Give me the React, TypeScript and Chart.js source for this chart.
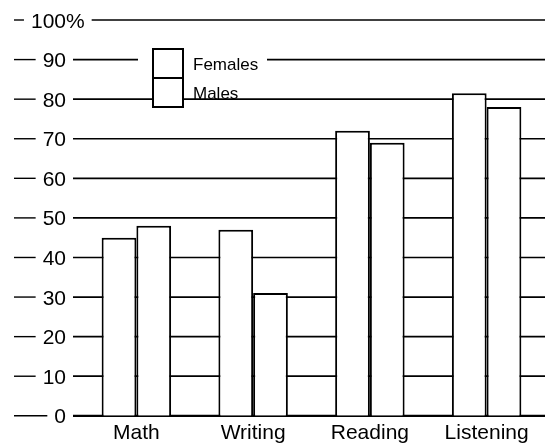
import { useEffect, useRef } from 'react';
import { Chart, registerables } from 'chart.js';

Chart.register(...registerables);

const categories = ['Math', 'Writing', 'Reading', 'Listening'];
const femaleValues = [45, 47, 72, 81.5];
const maleValues = [48, 31, 69, 78];
const seriesLabels = ['Females', 'Males'];
const yTicks = [0, 10, 20, 30, 40, 50, 60, 70, 80, 90, 100];
const topTickSuffix = '%';

const FONT = '"Liberation Sans", Arial, Helvetica, sans-serif';

export default function App() {
  const ref = useRef<HTMLCanvasElement>(null);

  useEffect(() => {
    if (!ref.current) return;

    const axisPlugin = {
      id: 'paperAxis',
      beforeDatasetsDraw(chart: any) {
        const ctx = chart.ctx;
        const ys = chart.scales.y;
        ctx.save();
        ctx.font = `21px ${FONT}`;
        ctx.fillStyle = '#000';
        ctx.strokeStyle = '#000';
        ctx.textBaseline = 'alphabetic';
        const numRight = 66;
        yTicks.forEach((v) => {
          const py = ys.getPixelForValue(v);
          const num = String(v);
          const numW = ctx.measureText(num).width;
          const numLeft = numRight - numW;
          ctx.textAlign = 'right';
          ctx.fillText(num, numRight, py + 7.5);
          let labelRight = numRight;
          if (v === yTicks[yTicks.length - 1]) {
            ctx.textAlign = 'left';
            ctx.fillText(topTickSuffix, numRight, py + 7.5);
            labelRight += ctx.measureText(topTickSuffix).width;
          }
          ctx.lineWidth = 1.4;
          ctx.beginPath();
          ctx.moveTo(14, py);
          ctx.lineTo(numLeft - 7, py);
          ctx.stroke();
          ctx.lineWidth = v === 0 ? 2.2 : 1.7;
          ctx.beginPath();
          ctx.moveTo(labelRight + 7, py);
          ctx.lineTo(chart.width, py);
          ctx.stroke();
        });
        ctx.restore();
      },
    };

    const legendPlugin = {
      id: 'paperLegend',
      afterDatasetsDraw(chart: any) {
        const ctx = chart.ctx;
        ctx.save();
        ctx.fillStyle = '#fff';
        ctx.fillRect(138, 52, 129, 20);
        const bx = 153;
        const by = 49;
        const bw = 30;
        const bh = 29;
        chart.data.datasets.forEach((ds: any, i: number) => {
          ctx.fillStyle = '#fff';
          ctx.fillRect(bx, by + i * bh, bw, bh);
          ctx.strokeStyle = '#000';
          ctx.lineWidth = 2;
          ctx.strokeRect(bx, by + i * bh, bw, bh);
          ctx.fillStyle = '#000';
          ctx.font = `17px ${FONT}`;
          ctx.textAlign = 'left';
          ctx.textBaseline = 'alphabetic';
          ctx.fillText(ds.label, 193, by + i * bh + 21);
        });
        ctx.restore();
      },
    };

    const chart = new Chart(ref.current, {
      type: 'bar',
      data: {
        labels: categories,
        datasets: [
          {
            label: seriesLabels[0],
            data: femaleValues,
            backgroundColor: '#fff',
            borderColor: '#000',
            borderWidth: 2,
          },
          {
            label: seriesLabels[1],
            data: maleValues,
            backgroundColor: '#fff',
            borderColor: '#000',
            borderWidth: 2,
          },
        ],
      },
      options: {
        responsive: false,
        animation: false,
        layout: { padding: { top: 20, left: 78, right: 0, bottom: -6 } },
        plugins: {
          legend: { display: false },
          tooltip: { enabled: false },
        },
        datasets: {
          bar: { categoryPercentage: 0.595, barPercentage: 1 },
        },
        scales: {
          x: {
            grid: { display: false, drawTicks: false, tickLength: 0 },
            border: { display: false },
            ticks: {
              color: '#000',
              font: { family: FONT, size: 21, lineHeight: 1.2 },
              padding: 5,
              maxRotation: 0,
            },
          },
          y: {
            display: false,
            min: 0,
            max: 100,
          },
        },
      },
      plugins: [axisPlugin, legendPlugin],
    });

    return () => chart.destroy();
  }, []);

  return (
    <div style={{ position: 'absolute', left: 0, top: 0, width: 545, height: 445, background: '#fff' }}>
      <canvas ref={ref} width={545} height={445} />
    </div>
  );
}
